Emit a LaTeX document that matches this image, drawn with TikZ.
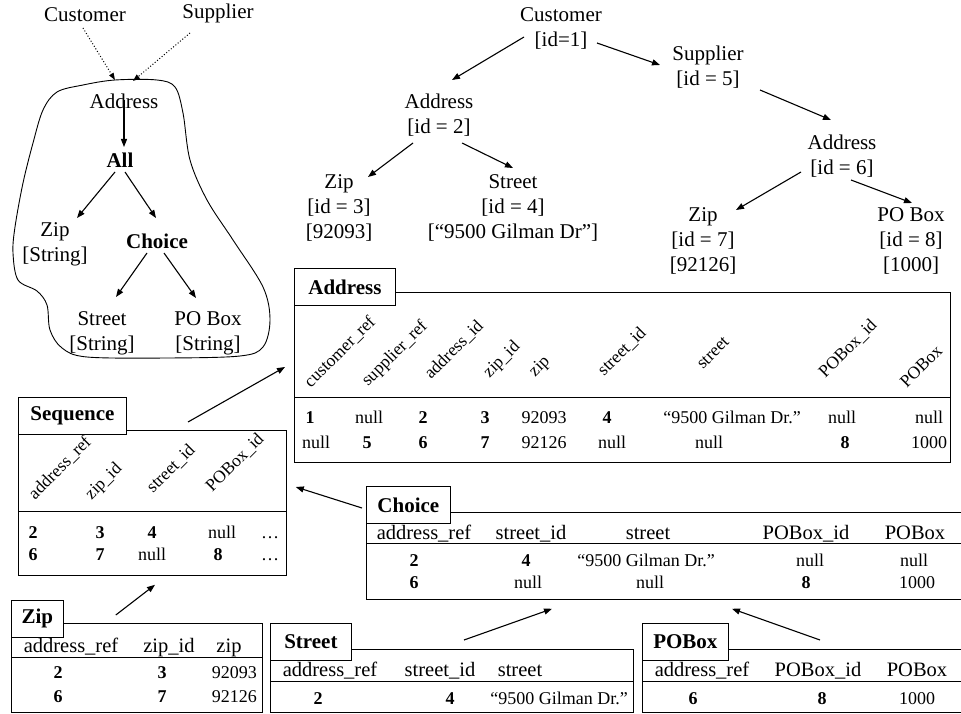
\documentclass[tikz,border=0pt]{standalone}
\usepackage{fontspec}
\setmainfont{Liberation Serif}
\usetikzlibrary{calc,arrows.meta}
\begin{document}
\begin{tikzpicture}[x=1pt,y=-1pt,
  every node/.style={inner sep=2pt},
  lbl/.style={font=\fontsize{21}{25}\selectfont, align=center},
  bl/.style={font=\fontsize{21}{25}\selectfont\bfseries},
  hd/.style={font=\fontsize{20.5}{24}\selectfont, anchor=base},
  val/.style={font=\fontsize{18}{21}\selectfont, anchor=base},
  num/.style={font=\fontsize{18}{21}\selectfont\bfseries, anchor=base},
  rot/.style={font=\fontsize{17.5}{20}\selectfont, rotate=45},
  frame/.style={draw, line width=0.8pt, anchor=north west, inner sep=0pt},
  tabbox/.style={draw, fill=white, line width=0.8pt, anchor=north west, inner sep=0pt,
    font=\fontsize{21}{24}\selectfont\bfseries, minimum height=37pt},
  rule/.style={line width=0.8pt},
  arr/.style={-{Triangle[length=8pt,width=6pt]}, line width=1.1pt},
  dotarr/.style={-{Triangle[length=7pt,width=5pt]}, dotted, line width=1pt},
]
\useasboundingbox (0,0) rectangle (961,714);

% ---------- schema tree (left) ----------
\draw[line width=0.9pt] plot[smooth cycle, tension=0.55] coordinates {
  (115,80) (157,80) (175,87) (183,113) (190,160) (207,200) (233,240)
  (263,287) (270,320) (263,347) (240,356) (167,358) (87,357) (62,348)
  (50,330) (47,305) (37,291) (18,280) (13,253) (15,227) (23,183)
  (33,143) (43,110) (57,92) (83,85)};

\node[lbl] (lcu) at (85,15) {Customer};
\node[lbl] (lsu) at (218,13) {Supplier};
\node[lbl] (laddr) at (124,101) {Address};
\node[bl] (lall) at (120,160) {All};
\node[lbl] (lzip) at (55,244) {Zip\\{}[String]};
\node[bl] (lch) at (157,241) {Choice};
\node[lbl] (lst) at (102,333) {Street\\{}[String]};
\node[lbl] (lpo) at (208,333) {PO Box\\{}[String]};

\draw[dotarr] ($(lcu)+(-2,13)$) -- ($(laddr)+(-9,-21)$);
\draw[dotarr] ($(lsu)+(-28,20)$) -- ($(laddr)+(9,-20)$);
\draw[arr] ($(laddr)+(0,-1)$) -- ($(lall)+(4,-13)$);
\draw[arr] ($(lall)+(-5,12)$) -- ($(lzip)+(22,-26)$);
\draw[arr] ($(lall)+(5,12)$) -- ($(lch)+(-1,-23)$);
\draw[arr] ($(lch)+(-10,12)$) -- ($(lst)+(14,-36)$);
\draw[arr] ($(lch)+(7,12)$) -- ($(lpo)+(-12,-35)$);

% ---------- instance tree (right) ----------
\node[lbl] (rc) at (561,28) {Customer\\{}[id=1]};
\node[lbl] (rs) at (708,67) {Supplier\\{}[id = 5]};
\node[lbl] (ra2) at (439,115) {Address\\{}[id = 2]};
\node[lbl] (ra6) at (842,156) {Address\\{}[id = 6]};
\node[lbl] (rz3) at (339,208) {Zip\\{}[id = 3]\\{}[92093]};
\node[lbl] (rst) at (513,208) {Street\\{}[id = 4]\\{}[“9500 Gilman Dr”]};
\node[lbl] (rz7) at (703,241) {Zip\\{}[id = 7]\\{}[92126]};
\node[lbl] (rpo) at (911,241) {PO Box\\{}[id = 8]\\{}[1000]};

\draw[arr] ($(rc)+(-37,9)$) -- ($(ra2)+(13,-35)$);
\draw[arr] ($(rc)+(36,15)$) -- ($(rs)+(-48,-2)$);
\draw[arr] ($(rs)+(52,23)$) -- ($(ra6)+(-11,-36)$);
\draw[arr] ($(ra2)+(-26,28)$) -- ($(rz3)+(29,-31)$);
\draw[arr] ($(ra2)+(23,28)$) -- ($(rst)+(0,-40)$);
\draw[arr] ($(ra6)+(-41,16)$) -- ($(rz7)+(33,-31)$);
\draw[arr] ($(ra6)+(9,24)$) -- ($(rpo)+(1,-38)$);

% ---------- Address table ----------
\node[frame, minimum width=656pt, minimum height=170pt] (addrF) at (294,292) {};
\draw[rule] (294,397) -- (950,397);
\node[tabbox, minimum width=101pt] (addrT) at (294,268) {Address};
\node[rot] at (340,352) {customer\_ref};
\node[rot] at (395,354) {supplier\_ref};
\node[rot] at (454,350) {address\_id};
\node[rot] at (502,360) {zip\_id};
\node[rot] at (540,367) {zip};
\node[rot] at (622,352) {street\_id};
\node[rot] at (713,353) {street};
\node[rot] at (848,349) {POBox\_id};
\node[rot] at (921,366) {POBox};
\node[num] at (310,423) {1};
\node[val] at (369,423) {null};
\node[num] at (423,423) {2};
\node[num] at (485,423) {3};
\node[val] at (544,423) {92093};
\node[num] at (607,423) {4};
\node[val] at (732,423) {“9500 Gilman Dr.”};
\node[val] at (842,423) {null};
\node[val] at (929,423) {null};
\node[val] at (316,448) {null};
\node[num] at (367,448) {5};
\node[num] at (423,448) {6};
\node[num] at (485,448) {7};
\node[val] at (544,448) {92126};
\node[val] at (612,448) {null};
\node[val] at (709,448) {null};
\node[num] at (845,448) {8};
\node[val] at (929,448) {1000};

% ---------- Sequence table ----------
\node[frame, minimum width=268pt, minimum height=145pt] (seqF) at (18,430) {};
\draw[rule] (18,511) -- (286,511);
\node[tabbox, minimum width=108pt] (seqT) at (18,397) {Sequence};
\node[rot] at (60,468) {address\_ref};
\node[rot] at (104,482) {zip\_id};
\node[rot] at (171,469) {street\_id};
\node[rot] at (235,463) {POBox\_id};
\node[num] at (33,538) {2};
\node[num] at (100,538) {3};
\node[num] at (152,538) {4};
\node[val] at (222,538) {null};
\node[val] at (270,538) {…};
\node[num] at (33,560) {6};
\node[num] at (100,560) {7};
\node[val] at (152,560) {null};
\node[num] at (218,560) {8};
\node[val] at (270,560) {…};

% ---------- Choice table ----------
\node[frame, minimum width=600pt, minimum height=87pt] (chF) at (366,512) {};
\draw[rule] (366,543) -- (966,543);
\node[tabbox, minimum width=84pt] (chT) at (366,486) {Choice};
\node[hd] at (424,539) {address\_ref};
\node[hd] at (531,539) {street\_id};
\node[hd] at (648,539) {street};
\node[hd] at (806,539) {POBox\_id};
\node[hd] at (915,539) {POBox};
\node[num] at (414,566) {2};
\node[num] at (526,566) {4};
\node[val] at (646,566) {“9500 Gilman Dr.”};
\node[val] at (810,566) {null};
\node[val] at (914,566) {null};
\node[num] at (414,588) {6};
\node[val] at (528,588) {null};
\node[val] at (650,588) {null};
\node[num] at (806,588) {8};
\node[val] at (917,588) {1000};

% ---------- Zip table ----------
\node[frame, minimum width=251pt, minimum height=89pt] (zipF) at (11,623) {};
\draw[rule] (11,657) -- (262,657);
\node[tabbox, minimum width=52pt] (zipT) at (11,600) {Zip};
\node[hd] at (71,652) {address\_ref};
\node[hd] at (169,652) {zip\_id};
\node[hd] at (229,652) {zip};
\node[num] at (58,678) {2};
\node[num] at (162,678) {3};
\node[val, anchor=base east] at (259,678) {92093};
\node[num] at (58,702) {6};
\node[num] at (162,702) {7};
\node[val, anchor=base east] at (259,702) {92126};

% ---------- Street table ----------
\node[frame, minimum width=363pt, minimum height=63pt] (stF) at (270,649) {};
\draw[rule] (270,681) -- (633,681);
\node[tabbox, minimum width=81pt] (stT) at (270,623) {Street};
\node[hd] at (330,676) {address\_ref};
\node[hd] at (440,676) {street\_id};
\node[hd] at (520,676) {street};
\node[num] at (318,704) {2};
\node[num] at (450,704) {4};
\node[val, anchor=base east] at (630,704) {“9500 Gilman Dr.”};

% ---------- POBox table ----------
\node[frame, minimum width=324pt, minimum height=63pt] (poF) at (642,649) {};
\draw[rule] (642,681) -- (966,681);
\node[tabbox, minimum width=86pt] (poT) at (642,623) {POBox};
\node[hd] at (702,676) {address\_ref};
\node[hd] at (818,676) {POBox\_id};
\node[hd] at (917,676) {POBox};
\node[num] at (693,704) {6};
\node[num] at (822,704) {8};
\node[val] at (917,704) {1000};

% ---------- derivation arrows between tables ----------
\draw[arr] ($(seqF.north west)+(170,-8)$) -- ($(addrF.north west)+(-9,75)$);
\draw[arr] ($(chF.north west)+(-4,-4)$) -- ($(seqF.north east)+(9,57)$);
\draw[arr] ($(zipT.north east)+(52,15)$) -- ($(seqF.south west)+(137,9)$);
\draw[arr] ($(stF.north west)+(194,-9)$) -- ($(chF.south west)+(186,9)$);
\draw[arr] ($(poF.north west)+(178,-9)$) -- ($(chF.south west)+(366,9)$);
\end{tikzpicture}
\end{document}
